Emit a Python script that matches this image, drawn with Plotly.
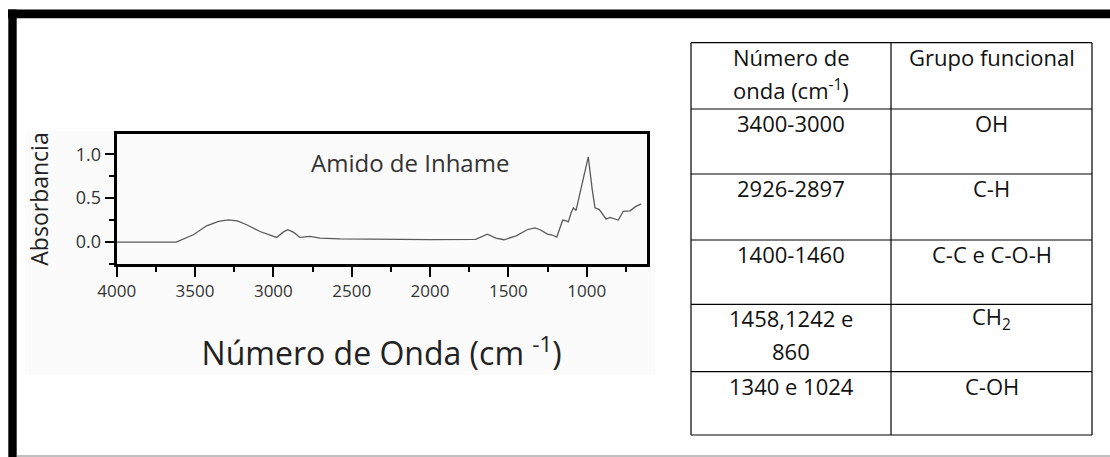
import plotly.graph_objects as go

W, H = 1110, 457

# espectro FTIR do amido de inhame
numero_onda = [4000, 3800, 3620, 3511, 3426, 3350, 3288, 3230, 3170, 3085, 3020, 2979,
               2940, 2908, 2870, 2830, 2766, 2702, 2574, 2300, 2000, 1709, 1670, 1634,
               1580, 1528, 1450, 1380, 1330, 1298, 1250, 1220, 1191, 1153, 1130, 1117,
               1100, 1085, 1068, 1030, 990, 965, 947, 919, 876, 851, 820, 798, 766,
               723, 691, 653]
absorbancia = [0.0, 0.0, 0.0, 0.083, 0.185, 0.235, 0.253, 0.24, 0.197, 0.12, 0.075, 0.053,
               0.11, 0.14, 0.11, 0.053, 0.064, 0.045, 0.035, 0.03, 0.028, 0.03, 0.06, 0.09,
               0.045, 0.026, 0.07, 0.14, 0.16, 0.14, 0.09, 0.08, 0.057, 0.25, 0.24, 0.23,
               0.33, 0.39, 0.36, 0.65, 0.97, 0.6, 0.39, 0.37, 0.26, 0.28, 0.26, 0.25, 0.35,
               0.355, 0.40, 0.435]

x_ticks = [4000, 3500, 3000, 2500, 2000, 1500, 1000]
y_ticks = [0.0, 0.5, 1.0]

# tabela
cabecalho = ["Número de<br>onda (cm<sup>-1</sup>)", "Grupo funcional"]
numero_tab = ["3400-3000", "2926-2897", "1400-1460", "1458,1242 e<br>860", "1340 e 1024"]
grupo_tab = ["OH", "C-H", "C-C e C-O-H", "CH<sub>2</sub>", "C-OH"]


def px(x):
    return x / W


def py(y):
    return 1 - y / H


fig = go.Figure()

fig.add_trace(go.Scatter(
    x=numero_onda, y=absorbancia, mode="lines",
    line=dict(color="#5a5a5a", width=1.3),
    showlegend=False,
))

# tabela desenhada com linhas e anotacoes
col_x = [691, 891, 1092]
row_y = [42.7, 109, 174, 240, 304.3, 371.7, 435]
linhas = [cabecalho] + [[a, b] for a, b in zip(numero_tab, grupo_tab)]

shapes = []
annotations = []
for y in row_y:
    shapes.append(dict(type="line", xref="paper", yref="paper",
                       x0=px(col_x[0]), x1=px(col_x[-1]), y0=py(y), y1=py(y),
                       line=dict(color="black", width=1.2)))
for x in col_x:
    shapes.append(dict(type="line", xref="paper", yref="paper",
                       x0=px(x), x1=px(x), y0=py(row_y[0]), y1=py(row_y[-1]),
                       line=dict(color="black", width=1.2)))
for i, linha in enumerate(linhas):
    for j, texto in enumerate(linha):
        cx = (col_x[j] + col_x[j + 1]) / 2
        for k, parte in enumerate(texto.split("<br>")):
            annotations.append(dict(
                text=parte, xref="paper", yref="paper",
                x=px(cx), y=py(row_y[i] + 14 + 33 * k),
                xanchor="center", yanchor="middle", showarrow=False,
                font=dict(family="Open Sans", size=22, color="#111"),
            ))

annotations.append(dict(
    text="Amido de Inhame", xref="paper", yref="paper",
    x=px(410), y=py(163), showarrow=False,
    font=dict(family="Open Sans", size=24, color="#333"),
))

shapes += [
    # fundo da imagem do espectro
    dict(type="rect", xref="paper", yref="paper", layer="below",
         x0=px(25), x1=px(655), y0=py(375), y1=py(131),
         fillcolor="#fbfbfb", line=dict(width=0)),
    # moldura
    dict(type="rect", xref="paper", yref="paper",
         x0=px(8), x1=px(1110), y0=py(18.3), y1=py(9.5),
         fillcolor="black", line=dict(width=0)),
    dict(type="rect", xref="paper", yref="paper",
         x0=px(8.3), x1=px(16.7), y0=py(457), y1=py(9.5),
         fillcolor="black", line=dict(width=0)),
    dict(type="line", xref="paper", yref="paper",
         x0=px(16.7), x1=px(1110), y0=py(456), y1=py(456),
         line=dict(color="#808080", width=1)),
]

axis_font = dict(family="Open Sans", size=17, color="#333")

fig.update_layout(
    width=W, height=H,
    margin=dict(l=0, r=0, t=0, b=0),
    paper_bgcolor="white",
    plot_bgcolor="#fcfcfc",
    font=dict(family="Open Sans", color="#333"),
    xaxis=dict(
        domain=[px(116.7), px(646.7)],
        range=[4000, 617],
        automargin=False,
        tickvals=x_ticks,
        ticks="outside", ticklen=10, tickwidth=2, tickcolor="black",
        minor=dict(dtick=250, ticklen=5, tickwidth=2, tickcolor="black", ticks="outside"),
        showline=True, linewidth=3, linecolor="black", mirror=True,
        showgrid=False, zeroline=False,
        tickfont=axis_font,
        title=dict(text="Número de Onda (cm <sup>-1</sup>)", font=dict(size=32, color="#222"), standoff=42),
    ),
    yaxis=dict(
        domain=[py(264), py(134)],
        range=[-0.25, 1.23],
        automargin=False,
        tickvals=y_ticks, tickformat=".1f",
        ticks="outside", ticklen=9, tickwidth=2, tickcolor="black",
        minor=dict(dtick=0.25, ticklen=5, tickwidth=2, tickcolor="black", ticks="outside"),
        showline=True, linewidth=3, linecolor="black", mirror=True,
        showgrid=False, zeroline=False,
        tickfont=dict(family="Open Sans", size=18, color="#333"),
        title=dict(text="Absorbancia", font=dict(size=23, color="#222"), standoff=21),
    ),
    annotations=annotations,
    shapes=shapes,
)

fig.write_html("out.html", config={"displayModeBar": False},
               post_script="document.body.style.margin='0';document.body.style.overflow='hidden';")
